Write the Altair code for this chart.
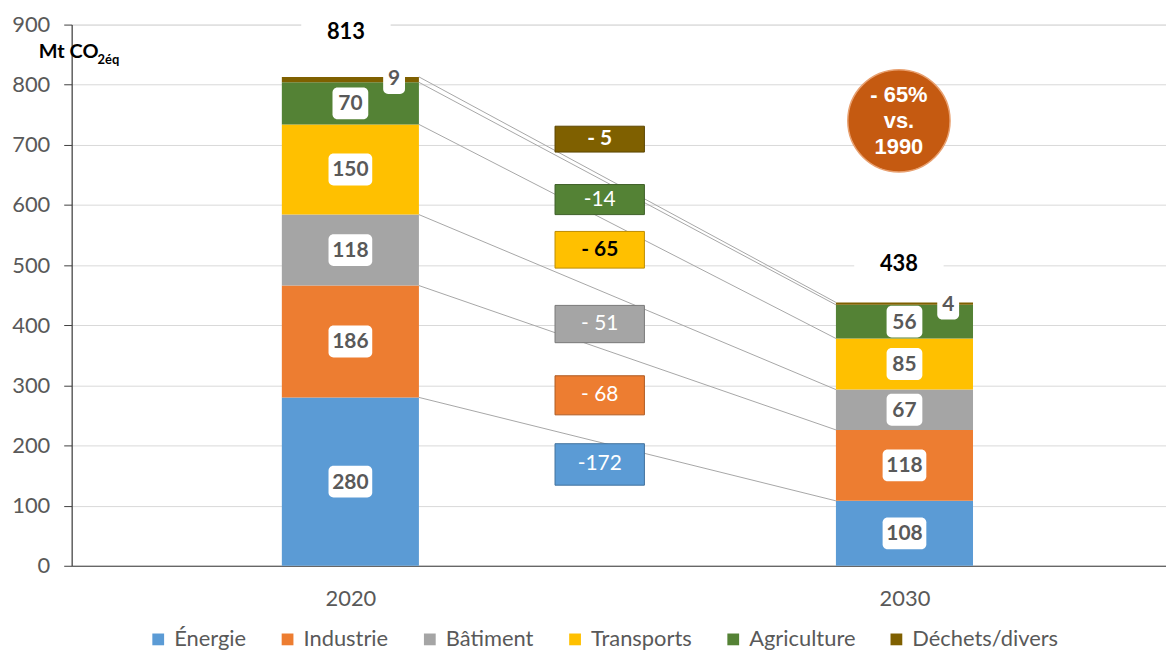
import altair as alt
import pandas as pd

# ---------------- data ----------------
categories = ["Énergie", "Industrie", "Bâtiment", "Transports", "Agriculture", "Déchets/divers"]
years = ["2020", "2030"]
values_2020 = [280, 186, 118, 150, 70, 9]
values_2030 = [108, 118, 67, 85, 56, 4]
totals = [813, 438]
change_labels = ["-172", "- 68", "- 51", "- 65", "-14", "- 5"]
circle_lines = ["- 65%", "vs.", "1990"]
unit_main = "Mt CO"
unit_sub = "2éq"

# ---------------- styles / layout ----------------
colors = ["#5B9BD5", "#ED7D31", "#A5A5A5", "#FFC000", "#548235", "#7F6000"]
box_strokes = ["#41719C", "#AE5A21", "#787878", "#BC8C00", "#3D5F27", "#5C4600"]
change_text_colors = ["white", "white", "white", "black", "white", "white"]
change_bold = [False, False, False, True, False, True]
# annotation box vertical extents (in data units)
change_low = [134, 251, 371, 495, 584, 688]
change_high = [203, 316, 433, 556, 634, 731]

W, H = 1100, 544
XMAX, YMAX = 1.972, 900
XS = W / XMAX          # px per x unit
YS = H / YMAX          # px per y unit
BAR_HALF = 69 / XS
FONT = "Lato"
GRAY = "#595959"

xscale = alt.Scale(domain=[-0.003, XMAX], nice=False, zero=False)
yscale = alt.Scale(domain=[0, YMAX], nice=False)
cscale = alt.Scale(domain=categories, range=colors)

# ---------------- tables ----------------
seg_rows, lab_rows = [], []
for yi, vals in enumerate([values_2020, values_2030]):
    xc = 0.5 + yi
    cum = 0
    for ci, (cat, v) in enumerate(zip(categories, vals)):
        y0, y1 = cum, cum + v
        cum = y1
        seg_rows.append(dict(cat=cat, order=ci, x0=xc - BAR_HALF, x1=xc + BAR_HALF, y0=y0, y1=y1))
        w = {1: 22, 2: 36, 3: 44}[len(str(v))] / XS
        h = 32 / YS
        if v < 20:
            lx, ly = xc + 44 / XS, y1 - 2
        else:
            lx, ly = xc, (y0 + y1) / 2
        lab_rows.append(dict(label=str(v), lx=lx, ly=ly, bx0=lx - w / 2, bx1=lx + w / 2,
                             by0=ly - h / 2, by1=ly + h / 2))
seg = pd.DataFrame(seg_rows)
labs = pd.DataFrame(lab_rows)

cum20 = pd.Series(values_2020).cumsum().tolist()
cum30 = pd.Series(values_2030).cumsum().tolist()
lines = pd.DataFrame(dict(xa=[0.5 + BAR_HALF] * 6, xb=[1.5 - BAR_HALF] * 6, ya=cum20, yb=cum30))

bx = 0.95
chg = pd.DataFrame(dict(cat=categories, label=change_labels, lo=change_low, hi=change_high,
                        stroke=box_strokes, tcol=change_text_colors, bold=change_bold,
                        x0=[bx - 45 / XS] * 6, x1=[bx + 45 / XS] * 6, xm=[bx] * 6))
chg["ym"] = (chg["lo"] + chg["hi"]) / 2

tot = pd.DataFrame(dict(label=[str(t) for t in totals], x=[0.492, 1.490],
                        y=[t + 75 if i == 0 else t + 63 for i, t in enumerate(totals)]))
tot["bx0"] = tot["x"] - 45 / XS
tot["bx1"] = tot["x"] + 45 / XS
tot["by0"] = tot["y"] - 14 / YS
tot["by1"] = tot["y"] + 14 / YS

circ = pd.DataFrame(dict(x=[1.490], y=[740], text=["\n".join(circle_lines)]))
unit = pd.DataFrame(dict(a=[unit_main], b=[unit_sub]))

# ---------------- layers ----------------
X = lambda f: alt.X(f, scale=xscale, axis=alt.Axis(
    values=[0.5, 1.5], labelExpr="datum.value < 1 ? '2020' : '2030'", title=None,
    grid=False, ticks=False, labelFontSize=22, labelFont=FONT, labelColor=GRAY,
    labelPadding=23, domainColor="#404040", domainWidth=1.2))
Y = lambda f: alt.Y(f, scale=yscale, axis=alt.Axis(
    values=list(range(0, 901, 100)), title=None, grid=True, gridColor="#D9D9D9",
    tickSize=8, tickColor="#404040", domainColor="#404040", domainWidth=1.2,
    labelFontSize=22, labelFont=FONT, labelColor=GRAY, labelPadding=14))

bars = alt.Chart(seg).mark_rect().encode(
    x=X("x0:Q"), x2="x1:Q", y=Y("y0:Q"), y2="y1:Q",
    color=alt.Color("cat:N", scale=cscale, sort=categories, legend=alt.Legend(
        title=None, orient="none", legendX=76, legendY=607, direction="horizontal",
        symbolType="square", symbolSize=140, symbolStrokeWidth=0, labelFontSize=22,
        labelFont=FONT, labelColor=GRAY, columnPadding=30, labelOffset=5)),
)

conn = alt.Chart(lines).mark_rule(color="#A6A6A6", strokeWidth=1).encode(
    x=alt.X("xa:Q", scale=xscale), x2="xb:Q",
    y=alt.Y("ya:Q", scale=yscale), y2="yb:Q")

boxes = alt.Chart(chg).mark_rect(strokeWidth=1).encode(
    x=alt.X("x0:Q", scale=xscale), x2="x1:Q",
    y=alt.Y("lo:Q", scale=yscale), y2="hi:Q",
    color=alt.Color("cat:N", scale=cscale, legend=None),
    stroke=alt.Stroke("stroke:N", scale=None))

chg_text_b = alt.Chart(chg).transform_filter("datum.bold").mark_text(
    font=FONT, fontSize=21, fontWeight="bold", baseline="middle").encode(
    x=alt.X("xm:Q", scale=xscale), y=alt.Y("ym:Q", scale=yscale),
    text="label:N", color=alt.Color("tcol:N", scale=None))
chg_text_n = alt.Chart(chg).transform_filter("!datum.bold").mark_text(
    font=FONT, fontSize=21, baseline="middle").encode(
    x=alt.X("xm:Q", scale=xscale), y=alt.Y("ym:Q", scale=yscale),
    text="label:N", color=alt.Color("tcol:N", scale=None))

lab_box = alt.Chart(labs).mark_rect(color="white", cornerRadius=5).encode(
    x=alt.X("bx0:Q", scale=xscale), x2="bx1:Q",
    y=alt.Y("by0:Q", scale=yscale), y2="by1:Q")
lab_text = alt.Chart(labs).mark_text(font=FONT, fontSize=21, fontWeight="bold",
                                      color=GRAY, baseline="middle", dy=1).encode(
    x=alt.X("lx:Q", scale=xscale), y=alt.Y("ly:Q", scale=yscale), text="label:N")

tot_box = alt.Chart(tot).mark_rect(color="white").encode(
    x=alt.X("bx0:Q", scale=xscale), x2="bx1:Q",
    y=alt.Y("by0:Q", scale=yscale), y2="by1:Q")
tot_text = alt.Chart(tot).mark_text(font=FONT, fontSize=22, fontWeight="bold",
                                     color="black", baseline="middle").encode(
    x=alt.X("x:Q", scale=xscale), y=alt.Y("y:Q", scale=yscale), text="label:N")

circle = alt.Chart(circ).mark_point(shape="circle", filled=True, size=10568, opacity=1,
                                      fill="#C55A11", stroke="#E8A070", strokeWidth=1.5).encode(
    x=alt.X("x:Q", scale=xscale), y=alt.Y("y:Q", scale=yscale))
circle_text = alt.Chart(circ).mark_text(font="Liberation Sans", fontSize=22, fontWeight="bold",
                                         color="white", lineBreak="\n", lineHeight=26,
                                         baseline="middle", dy=-26).encode(
    x=alt.X("x:Q", scale=xscale), y=alt.Y("y:Q", scale=yscale), text="text:N")

unit_a = alt.Chart(unit).mark_text(font=FONT, fontSize=20, fontWeight="bold", color="black",
                                    align="left", baseline="alphabetic").encode(
    x=alt.value(-33), y=alt.value(34), text="a:N")
unit_b = alt.Chart(unit).mark_text(font=FONT, fontSize=13, fontWeight="bold", color="black",
                                    align="left", baseline="alphabetic").encode(
    x=alt.value(26), y=alt.value(40), text="b:N")

chart = alt.layer(
    bars, conn, boxes, chg_text_b, chg_text_n, lab_box, lab_text,
    tot_box, tot_text, circle, circle_text, unit_a, unit_b
).properties(
    width=W, height=H,
    autosize=alt.AutoSizeParams(type="none"),
    padding={"left": 64, "top": 15, "right": 0, "bottom": 85},
).configure_view(stroke=None).configure(background="white")

chart.save("out.html", embed_options={"renderer": "svg", "actions": False})
